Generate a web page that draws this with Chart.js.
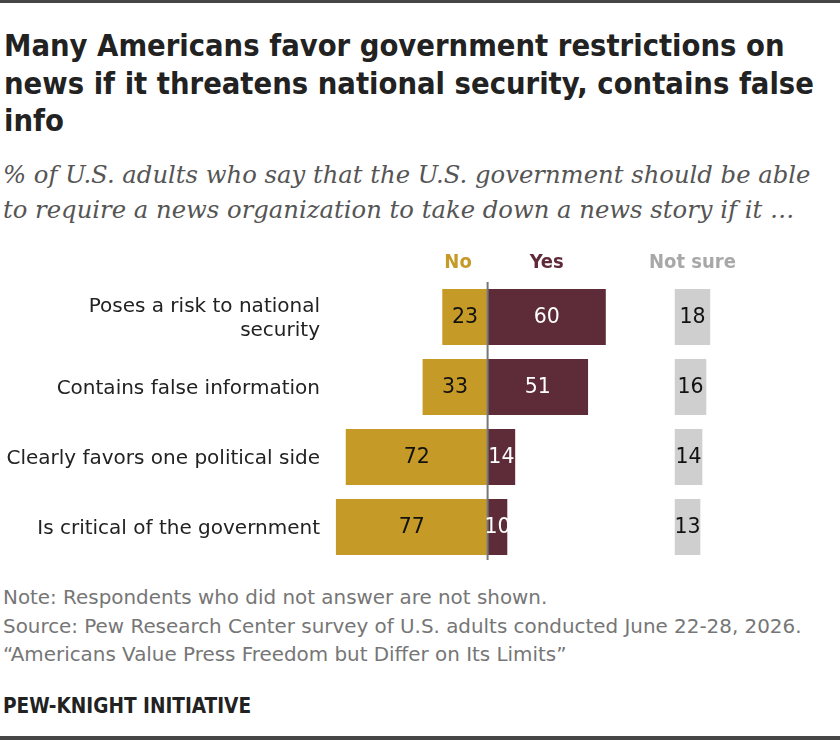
<!DOCTYPE html>
<html>
<head>
<meta charset="utf-8">
<script src="https://cdn.jsdelivr.net/npm/chart.js@4/dist/chart.umd.min.js"></script>
<style>
  html, body { margin: 0; padding: 0; background: #fff; }
  #page { position: relative; width: 840px; height: 740px; overflow: hidden; background: #fff; }
  .bar { position: absolute; left: 0; width: 840px; background: #464646; }
  #title { position: absolute; left: 4px; top: 27px; width: 830px;
    font-family: "DejaVu Sans Condensed", "DejaVu Sans", sans-serif; font-weight: bold;
    font-size: 30.6px; line-height: 37.5px; color: #222; }
  #subtitle { position: absolute; left: 3px; top: 157px; width: 835px; white-space: nowrap;
    font-family: "DejaVu Serif", serif; font-style: italic;
    font-size: 24.3px; line-height: 35px; color: #555; }
  #notes { position: absolute; left: 3px; top: 584px; width: 835px; white-space: nowrap;
    font-family: "DejaVu Sans", sans-serif;
    font-size: 19.9px; line-height: 28.5px; color: #767676; }
  #brand { position: absolute; left: 3px; top: 693px;
    font-family: "DejaVu Sans Condensed", "DejaVu Sans", sans-serif; font-weight: bold;
    font-size: 20.6px; line-height: 26px; color: #222; }
  #chartWrap { position: absolute; left: 0; top: 240px; width: 840px; height: 330px; }
</style>
</head>
<body>
<div id="page">
  <div class="bar" style="top:0;height:3px;"></div>
  <div id="title">Many Americans favor government restrictions on news if it threatens national security, contains false info</div>
  <div id="subtitle">% of U.S. adults who say that the U.S. government should be able<br>to require a news organization to take down a news story if it …</div>
  <div id="chartWrap"><canvas id="c" width="840" height="330"></canvas></div>
  <div id="notes">Note: Respondents who did not answer are not shown.<br>Source: Pew Research Center survey of U.S. adults conducted June 22-28, 2026.<br>“Americans Value Press Freedom but Differ on Its Limits”</div>
  <div id="brand">PEW-KNIGHT INITIATIVE</div>
  <div class="bar" style="top:736px;height:4px;"></div>
</div>
<script>
// ---- Data ----
const categories = [
  ["Poses a risk to national", "security"],
  "Contains false information",
  "Clearly favors one political side",
  "Is critical of the government"
];
const noValues = [23, 33, 72, 77];
const yesValues = [60, 51, 14, 10];
const notSureValues = [18, 16, 14, 13];
const seriesNames = ["No", "Yes", "Not sure"];

// ---- Styling ----
const colNo = "#C59A27";
const colYes = "#5E2B39";
const colNS = "#CFCFCF";
const notSureOffset = 95;   // where the separate "Not sure" column starts on the value axis

const labelFont = '"DejaVu Sans", sans-serif';
const headFont = '"DejaVu Sans Condensed", "DejaVu Sans", sans-serif';

const valueLabels = {
  id: 'valueLabels',
  afterDatasetsDraw(chart) {
    const ctx = chart.ctx;
    const xs = chart.scales.x;
    const area = chart.chartArea;
    // center divider
    const x0 = xs.getPixelForValue(0);
    ctx.save();
    ctx.strokeStyle = '#777';
    ctx.lineWidth = 2;
    ctx.beginPath();
    ctx.moveTo(x0, area.top);
    ctx.lineTo(x0, area.bottom - 2);
    ctx.stroke();

    ctx.font = '20.5px ' + labelFont;
    ctx.textAlign = 'center';
    ctx.textBaseline = 'middle';
    const colors = ['#111', '#fff', '#111'];
    const vals = [noValues, yesValues, notSureValues];
    chart.data.datasets.forEach((ds, di) => {
      const meta = chart.getDatasetMeta(di);
      meta.data.forEach((el, i) => {
        const cx = (el.x + el.base) / 2;
        ctx.fillStyle = colors[di];
        ctx.fillText(String(vals[di][i]), cx, el.y + 1);
      });
    });

    // column headers
    ctx.font = 'bold 20px ' + headFont;
    const hy = area.top - 19;
    ctx.fillStyle = colNo;
    ctx.fillText(seriesNames[0], xs.getPixelForValue(-15), hy);
    ctx.fillStyle = colYes;
    ctx.fillText(seriesNames[1], xs.getPixelForValue(30), hy);
    ctx.fillStyle = '#A8A8A8';
    ctx.fillText(seriesNames[2], xs.getPixelForValue(notSureOffset + 9), hy);
    ctx.restore();
  }
};

new Chart(document.getElementById('c'), {
  type: 'bar',
  data: {
    labels: categories,
    datasets: [
      { label: seriesNames[0], data: noValues.map(v => [-v, 0]), backgroundColor: colNo },
      { label: seriesNames[1], data: yesValues.map(v => [0, v]), backgroundColor: colYes },
      { label: seriesNames[2], data: notSureValues.map(v => [notSureOffset, notSureOffset + v]), backgroundColor: colNS }
    ]
  },
  options: {
    indexAxis: 'y',
    responsive: false,
    animation: false,
    devicePixelRatio: 1,
    grouped: false,
    categoryPercentage: 1,
    barPercentage: 0.8,
    borderSkipped: false,
    layout: { padding: { top: 42, bottom: 8, left: 0, right: 116 } },
    plugins: { legend: { display: false }, tooltip: { enabled: false } },
    scales: {
      x: { type: 'linear', min: -80, max: 120, display: false },
      y: {
        grid: { display: false, drawTicks: false },
        border: { display: false },
        afterFit(scale) { scale.width = 330; scale.paddingTop = 0; scale.paddingBottom = 0; },
        ticks: {
          color: '#222',
          padding: 10,
          labelOffset: 2,
          font: { family: labelFont, size: 20, lineHeight: 1.2 }
        }
      }
    }
  },
  plugins: [valueLabels]
});
</script>
</body>
</html>
